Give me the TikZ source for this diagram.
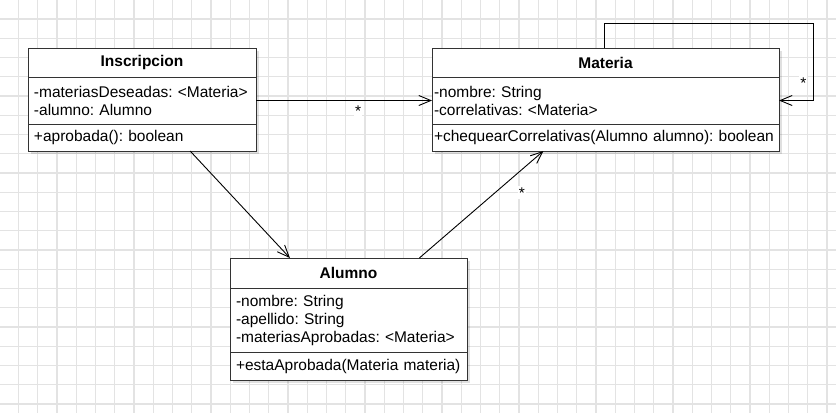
\documentclass[tikz,border=0pt]{standalone}
\usepackage{fontspec}
\setmainfont{Liberation Sans}
\usetikzlibrary{positioning,calc,arrows.meta,shadows}
\frenchspacing
\hyphenpenalty=10000
\tikzset{
    gridline/.style={black!11, line width=1.2pt},
    classbox/.style={draw=black!80, line width=1pt, fill=white, outer sep=0pt,
        inner xsep=6pt, inner ysep=0pt, font=\fontsize{15.5}{18}\selectfont,
        drop shadow={shadow xshift=3pt, shadow yshift=-3pt, opacity=0.12, fill=black}},
    ctitle/.style={classbox, text width=#1, align=center, font=\fontsize{15.5}{18}\selectfont\bfseries},
    cbody/.style={classbox, text width=#1, align=left},
    assoc/.style={line width=0.9pt, -{Straight Barb[length=12pt,width=10pt]}},
    mult/.style={fill=white, inner sep=1pt, font=\fontsize{15.5}{18}\selectfont},
}
\begin{document}
\begin{tikzpicture}[x=1pt,y=-1pt]
        \useasboundingbox (0,0) rectangle (836,413);
        %% Grid
        \foreach \i in {0,...,43} {
            \draw[gridline] ({18.5+19.25*\i},0) -- ({18.5+19.25*\i},413);
        }
        \foreach \j in {0,...,21} {
            \draw[gridline] (0,{19+19.25*\j}) -- (836,{19+19.25*\j});
        }
        %% Class Inscripcion
        \node[ctitle=216pt, minimum height=29pt, anchor=north west] (inscTitle) at (28,48) {Inscripcion};
        \node[cbody=216pt, minimum height=47pt, below=0pt of inscTitle] (inscAttr) {-materiasDeseadas: <Materia>\\-alumno: Alumno};
        \node[cbody=216pt, minimum height=27pt, below=0pt of inscAttr] (inscOps) {+aprobada(): boolean};
        %% Class Materia
        \node[ctitle=335pt, minimum height=29pt, anchor=north west] (matTitle) at (432,48) {Materia};
        \node[cbody=343pt, inner xsep=2pt, minimum height=47pt, below=0pt of matTitle] (matAttr) {-nombre: String\\-correlativas: <Materia>};
        \node[cbody=343pt, inner xsep=2pt, minimum height=27pt, below=0pt of matAttr] (matOps) {+chequearCorrelativas(Alumno alumno): boolean};
        %% Class Alumno
        \node[ctitle=225pt, minimum height=30pt, anchor=north west] (aluTitle) at (230,258) {Alumno};
        \node[cbody=225pt, minimum height=64pt, below=0pt of aluTitle] (aluAttr) {-nombre: String\\-apellido: String\\-materiasAprobadas: <Materia>};
        \node[cbody=225pt, minimum height=28pt, below=0pt of aluAttr] (aluOps) {+estaAprobada(Materia materia)};
        %% Associations
        \draw[assoc] (inscAttr.east) -- node[mult, pos=0.58, yshift=-11pt] (multMat) {*} (matAttr.west);
        \draw[assoc] ($(inscOps.south west)!0.711!(inscOps.south east)$) -- ($(aluTitle.north west)!0.253!(aluTitle.north east)$);
        \draw[assoc] ($(aluTitle.north west)!0.799!(aluTitle.north east)$) -- node[mult, pos=0.6, xshift=28pt, yshift=1pt] (multCorr) {*} ($(matOps.south west)!0.321!(matOps.south east)$);
        %% Self association of Materia
        \draw[assoc] ($(matTitle.north west)!0.497!(matTitle.north east)$) -- ++(0,-25) -| ($(matAttr.east)+(34,0)$) -- (matAttr.east);
        \node[mult] (multSelf) at ($(matAttr.east)+(24.3,-17.8)$) {*};
    \end{tikzpicture}
\end{document}
